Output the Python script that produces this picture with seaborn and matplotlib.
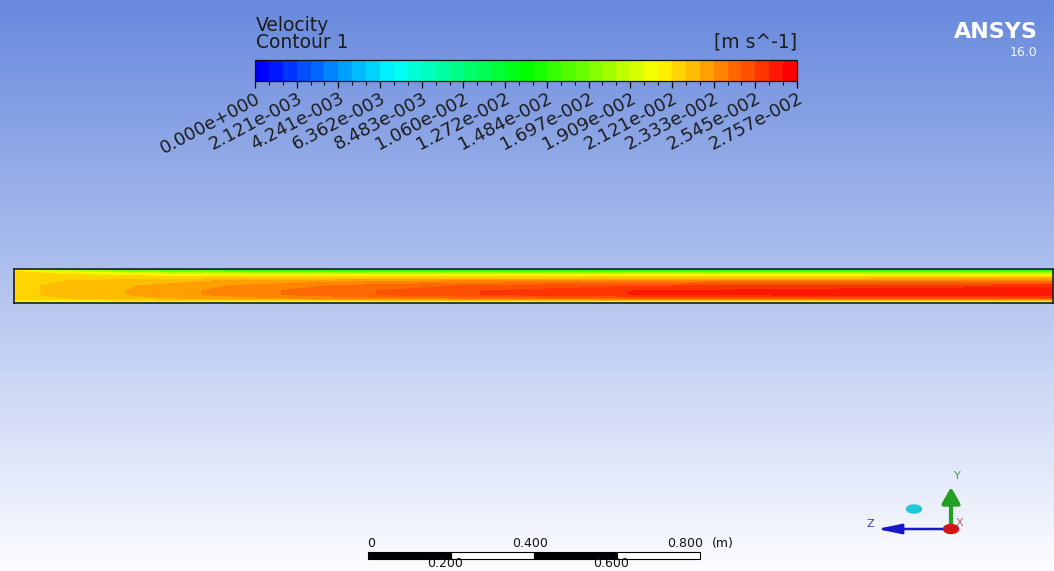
import numpy as np
import matplotlib
matplotlib.use("Agg")
import matplotlib.pyplot as plt
from matplotlib.colors import ListedColormap, BoundaryNorm
from matplotlib.cm import ScalarMappable
from matplotlib.patches import Rectangle, Ellipse
from matplotlib.ticker import FixedLocator, FixedFormatter
import seaborn as sns

W, H = 1054, 571

# legend (colour scale) settings
legend_max = 2.7573e-2  # m/s
n_bands = 39
rainbow_anchors = ["#0000ff", "#00ffff", "#00ff00", "#ffff00", "#ff0000"]
tick_values = [0.0, 2.121e-3, 4.241e-3, 6.362e-3, 8.483e-3, 1.060e-2, 1.272e-2,
               1.484e-2, 1.697e-2, 1.909e-2, 2.121e-2, 2.333e-2, 2.545e-2, 2.757e-2]
tick_labels = ["0.000e+000", "2.121e-003", "4.241e-003", "6.362e-003", "8.483e-003",
               "1.060e-002", "1.272e-002", "1.484e-002", "1.697e-002", "1.909e-002",
               "2.121e-002", "2.333e-002", "2.545e-002", "2.757e-002"]

# velocity field in the channel (cm/s), one profile per axial station
axial_m = [0.0, 0.11, 0.29, 0.47, 0.66, 0.89, 1.14, 1.5, 2.17, 2.5]
depth_frac = [0.0, 0.04, 0.1, 0.2, 0.35, 0.5, 0.65, 0.75, 0.85, 0.93, 1.0]  # 0 = top wall
velocity_cm_s = [
    [1.60, 2.05, 2.18, 2.18, 2.18, 2.18, 2.18, 2.18, 2.18, 2.10, 1.60],
    [1.30, 1.80, 2.05, 2.17, 2.19, 2.20, 2.20, 2.20, 2.19, 2.08, 1.50],
    [1.10, 1.55, 1.90, 2.12, 2.22, 2.26, 2.27, 2.27, 2.24, 2.10, 1.45],
    [1.00, 1.45, 1.80, 2.08, 2.26, 2.32, 2.34, 2.34, 2.29, 2.12, 1.42],
    [1.00, 1.42, 1.77, 2.07, 2.29, 2.38, 2.41, 2.41, 2.34, 2.13, 1.40],
    [1.00, 1.40, 1.76, 2.07, 2.32, 2.44, 2.48, 2.48, 2.39, 2.14, 1.40],
    [1.00, 1.40, 1.75, 2.07, 2.34, 2.49, 2.55, 2.55, 2.43, 2.15, 1.40],
    [1.00, 1.40, 1.75, 2.07, 2.36, 2.54, 2.62, 2.62, 2.47, 2.15, 1.40],
    [1.00, 1.40, 1.75, 2.07, 2.38, 2.58, 2.66, 2.66, 2.50, 2.15, 1.40],
    [1.00, 1.40, 1.75, 2.07, 2.38, 2.59, 2.68, 2.68, 2.50, 2.15, 1.40],
]

# length scale bar
scale_marks_m = [0.0, 0.2, 0.4, 0.6, 0.8]
scale_labels = ["0", "0.200", "0.400", "0.600", "0.800"]

sns.set_theme(style="white")
plt.rcParams["font.family"] = ["DejaVu Sans"]

band_colors = sns.blend_palette(rainbow_anchors, n_colors=n_bands)
cmap = ListedColormap(band_colors)
bounds = np.linspace(0.0, legend_max, n_bands + 1)
norm = BoundaryNorm(bounds, cmap.N)

fig = plt.figure(figsize=(W / 100, H / 100), dpi=100)

# gradient background + pixel overlay
ax = fig.add_axes([0, 0, 1, 1])
top_rgb = np.array([104, 137, 221]) / 255
bot_rgb = np.array([252, 253, 255]) / 255
t = np.linspace(0, 1, 256)[:, None, None]
grad = top_rgb * (1 - t) + bot_rgb * t
ax.imshow(grad, extent=(0, W, H, 0), aspect="auto", zorder=0)
ax.set_xlim(0, W)
ax.set_ylim(H, 0)
ax.axis("off")

txt = "#1c1c1c"
ax.text(256, 31, "Velocity", fontsize=13.5, color=txt, va="baseline")
ax.text(256, 48, "Contour 1", fontsize=13.5, color=txt, va="baseline")
ax.text(797, 48, "[m s^-1]", fontsize=13.5, color=txt, va="baseline", ha="right")

ax.text(1038, 38, "ANSYS", fontsize=16, fontweight="bold", color="white",
        ha="right", va="baseline")
ax.text(1037, 56, "16.0", fontsize=9, color="#f4f6ff", ha="right", va="baseline")

# colour legend
cax = fig.add_axes([255 / W, 1 - 81 / H, 542 / W, 21 / H])
cb = fig.colorbar(ScalarMappable(norm=norm, cmap=cmap), cax=cax,
                  orientation="horizontal", spacing="proportional")
cb.locator = FixedLocator(tick_values)
cb.formatter = FixedFormatter(tick_labels)
cb.minorlocator = FixedLocator(bounds)
cb.outline.set_linewidth(0.9)
cb.outline.set_edgecolor("#111111")
cax.tick_params(axis="x", which="major", length=5, width=0.9, direction="out",
                color="#111111", pad=1, bottom=True, labelsize=13, labelcolor=txt)
cax.tick_params(axis="x", which="minor", length=3, width=0.8, direction="out",
                color="#111111", bottom=True)
for lab in cax.get_xticklabels():
    lab.set_rotation(28)
    lab.set_ha("right")
    lab.set_va("top")
    lab.set_rotation_mode("anchor")

# channel contour
pipe = fig.add_axes([14 / W, 1 - 303 / H, 1039 / W, 34 / H])
Z = np.array(velocity_cm_s).T / 100.0
pipe.contourf(axial_m, depth_frac, Z, levels=bounds, cmap=cmap, norm=norm)
pipe.set_xlim(0, 2.5)
pipe.set_ylim(1, 0)
pipe.set_xticks([])
pipe.set_yticks([])
for s in pipe.spines.values():
    s.set_visible(True)
    s.set_color("#1a2030")
    s.set_linewidth(1.2)

# scale bar
px_per_m = 415.0
x0, y0, hbar = 368, 551.5, 7
for i in range(len(scale_marks_m) - 1):
    xa = x0 + scale_marks_m[i] * px_per_m
    xb = x0 + scale_marks_m[i + 1] * px_per_m
    ax.add_patch(Rectangle((xa, y0), xb - xa, hbar,
                           facecolor="black" if i % 2 == 0 else "white",
                           edgecolor="black", lw=0.8, zorder=3))
sfs = 9
for v, lab in zip(scale_marks_m, scale_labels):
    xp = x0 + v * px_per_m
    if v == 0:
        ax.text(xp - 1, 547, lab, fontsize=sfs, color="#111111", ha="left", va="baseline")
    elif lab == "0.400":
        ax.text(xp - 4, 547, lab, fontsize=sfs, color="#111111", ha="center", va="baseline")
    elif lab == "0.800":
        ax.text(xp + 3, 547, lab, fontsize=sfs, color="#111111", ha="right", va="baseline")
    else:
        ax.text(xp - 6, 567, lab, fontsize=sfs, color="#111111", ha="center", va="baseline")
ax.text(712, 547, "(m)", fontsize=sfs, color="#111111", ha="left", va="baseline")

# orientation triad
ax.annotate("", xy=(951, 487), xytext=(951, 529),
            arrowprops=dict(arrowstyle="-|>,head_width=0.45,head_length=0.8",
                            color="#22a022", lw=3, shrinkA=0, shrinkB=0), zorder=4)
ax.annotate("", xy=(877, 529), xytext=(951, 529),
            arrowprops=dict(arrowstyle="-|>,head_width=0.25,head_length=1.2",
                            color="#1818c8", lw=1.8, shrinkA=0, shrinkB=0), zorder=4)
ax.add_patch(Ellipse((951, 529), 15, 9, color="#d01515", zorder=5))
ax.add_patch(Ellipse((914, 509), 15, 8, color="#22c8dc", zorder=5))
ax.text(957, 479, "Y", fontsize=8, color="#4a9a4a", ha="center", va="baseline")
ax.text(870, 527, "Z", fontsize=8, color="#3a3ac0", ha="center", va="baseline")
ax.text(959, 526, "X", fontsize=8, color="#c06060", ha="center", va="baseline")

fig.savefig("out.png", dpi=100)
